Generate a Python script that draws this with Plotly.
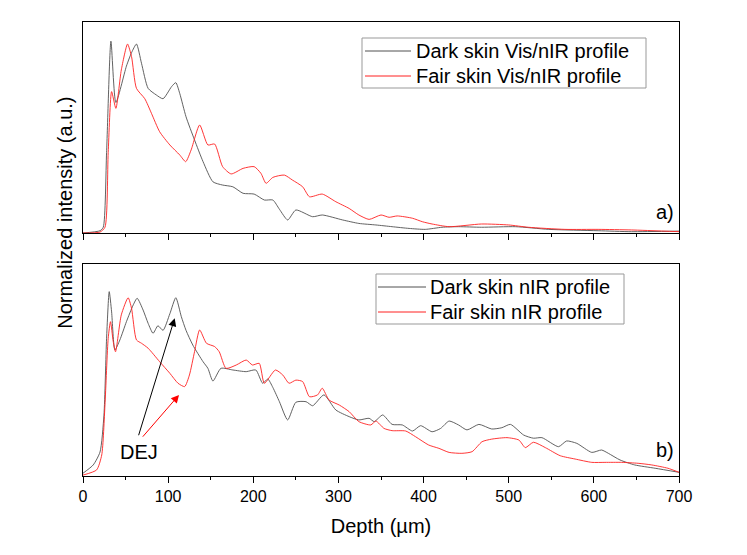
import plotly.graph_objects as go

# ---- Panel a) Vis/nIR profiles ----
a_dark_depth = [0, 20, 23.8, 27.7, 32.8, 38.6, 51, 57, 62.8, 68.7, 76.5, 86, 94, 104, 109, 113.6, 121, 131, 141,
                152.6, 164, 176, 188, 201, 213, 223, 230.7, 240.4, 250, 269.7, 281, 305, 324, 344, 363, 383, 402,
                421.6, 441, 468, 508, 547, 605, 644, 700]
a_dark_val = [0, 0.012, 0.03, 0.42, 1.0, 0.68, 0.87, 0.94, 0.985, 0.885, 0.754, 0.72, 0.70, 0.763, 0.784, 0.728,
              0.606, 0.485, 0.372, 0.267, 0.25, 0.241, 0.207, 0.203, 0.172, 0.172, 0.124, 0.068, 0.12, 0.085,
              0.094, 0.068, 0.05, 0.042, 0.033, 0.024, 0.019, 0.03, 0.033, 0.03, 0.033, 0.019, 0.012, 0.007, 0.01]

a_fair_depth = [0, 20, 25.8, 29.6, 33.6, 38.6, 45, 52.3, 57, 62.8, 72.6, 80.4, 90, 102, 113.6, 120.6, 127, 137,
                146.7, 154.6, 164, 174, 188, 201, 209, 215, 223, 236.5, 246, 258, 266, 281, 297, 312.6, 324, 336,
                350, 359.5, 369, 387, 398.5, 410, 430, 468, 500, 523, 566, 605, 644, 700]
a_fair_val = [0, 0.005, 0.03, 0.42, 0.737, 0.65, 0.85, 0.985, 0.92, 0.754, 0.70, 0.624, 0.528, 0.459, 0.407, 0.372,
              0.433, 0.563, 0.459, 0.464, 0.346, 0.308, 0.337, 0.346, 0.311, 0.259, 0.29, 0.302, 0.276, 0.241,
              0.189, 0.203, 0.163, 0.128, 0.094, 0.071, 0.094, 0.082, 0.089, 0.077, 0.059, 0.047, 0.033, 0.047,
              0.042, 0.03, 0.019, 0.019, 0.016, 0.007]

# ---- Panel b) nIR profiles ----
b_dark_depth = [0, 12, 20, 24.6, 27.7, 30.8, 33.6, 37.5, 43.3, 51, 59, 63.6, 70.6, 76.5, 82.3, 88, 94, 102, 109,
                115.5, 121, 129, 141, 146.7, 152.6, 162, 176, 191.7, 203, 211, 217, 223, 230.7, 240.4, 250, 262,
                269.7, 283, 297, 312.6, 324, 336, 342, 352, 363, 375, 387, 396.5, 410, 420, 430, 441, 451, 465,
                480, 492, 502, 517.6, 529, 539, 558.5, 568, 580, 597.6, 609, 617, 630.7, 648, 672, 700]
b_dark_val = [0.015, 0.06, 0.13, 0.33, 0.747, 1.0, 0.89, 0.684, 0.738, 0.837, 0.928, 0.964, 0.9, 0.828, 0.774,
              0.815, 0.79, 0.88, 0.967, 0.864, 0.79, 0.71, 0.62, 0.584, 0.515, 0.584, 0.575, 0.566, 0.575, 0.503,
              0.526, 0.48, 0.403, 0.304, 0.4, 0.403, 0.381, 0.44, 0.358, 0.322, 0.304, 0.313, 0.295, 0.331, 0.28,
              0.277, 0.244, 0.273, 0.24, 0.258, 0.298, 0.277, 0.25, 0.28, 0.255, 0.262, 0.28, 0.222, 0.205, 0.208,
              0.159, 0.19, 0.177, 0.128, 0.141, 0.123, 0.087, 0.06, 0.042, 0.02]

b_fair_depth = [0, 16, 22, 25.8, 29.6, 32.3, 35.5, 38.2, 45, 53, 57, 62.8, 68.7, 76.5, 90, 102, 111.6, 119.4, 125,
                131, 137, 145, 154.6, 160, 168, 180, 191.7, 199, 207, 213, 226, 234.6, 242, 250, 258, 266, 275.5,
                281, 289, 301, 312.6, 324, 338, 344, 353.6, 363, 379, 390.6, 406, 418, 430, 445, 457, 468.7, 480,
                498, 512, 519.5, 529, 543, 560.5, 578, 597.6, 613, 632.7, 652, 668, 687, 700]
b_fair_val = [0.005, 0.033, 0.114, 0.385, 0.747, 0.837, 0.729, 0.674, 0.874, 0.967, 0.91, 0.738, 0.72, 0.693, 0.62,
              0.557, 0.503, 0.485, 0.548, 0.674, 0.792, 0.72, 0.702, 0.674, 0.584, 0.602, 0.629, 0.602, 0.611, 0.503,
              0.575, 0.548, 0.503, 0.52, 0.512, 0.43, 0.44, 0.476, 0.412, 0.385, 0.349, 0.295, 0.277, 0.298, 0.258,
              0.246, 0.244, 0.213, 0.168, 0.15, 0.128, 0.123, 0.132, 0.186, 0.2, 0.208, 0.195, 0.154, 0.183, 0.154,
              0.11, 0.092, 0.074, 0.074, 0.074, 0.069, 0.06, 0.042, 0.02]

x_ticks = [0, 100, 200, 300, 400, 500, 600, 700]
x_minor_ticks = [50, 150, 250, 350, 450, 550, 650]

legend_a = ["Dark skin Vis/nIR profile", "Fair skin Vis/nIR profile"]
legend_b = ["Dark skin nIR profile", "Fair skin nIR profile"]

DARK = "#505050"
RED = "#ff2020"
FONT = "Liberation Sans, Arial, sans-serif"

fig = go.Figure()
line_kw = dict(width=0.9, shape="spline", smoothing=0.6)
fig.add_trace(go.Scatter(x=a_dark_depth, y=a_dark_val, mode="lines", line=dict(color=DARK, **line_kw),
                         name=legend_a[0], xaxis="x", yaxis="y"))
fig.add_trace(go.Scatter(x=a_fair_depth, y=a_fair_val, mode="lines", line=dict(color=RED, **line_kw),
                         name=legend_a[1], xaxis="x", yaxis="y"))
fig.add_trace(go.Scatter(x=b_dark_depth, y=b_dark_val, mode="lines", line=dict(color=DARK, **line_kw),
                         name=legend_b[0], xaxis="x2", yaxis="y2"))
fig.add_trace(go.Scatter(x=b_fair_depth, y=b_fair_val, mode="lines", line=dict(color=RED, **line_kw),
                         name=legend_b[1], xaxis="x2", yaxis="y2"))

axis_common = dict(showline=True, linecolor="black", linewidth=1.3, mirror=True, showgrid=False, zeroline=False)
xcommon = dict(axis_common, range=[0, 700], tickvals=x_ticks, ticks="outside", ticklen=6, tickcolor="black",
               minor=dict(tickvals=x_minor_ticks, ticks="outside", ticklen=3, tickcolor="black"))

# ---- legend boxes drawn in paper coordinates of the plot area ----
PLOT_L, PLOT_R, PLOT_T, PLOT_B = 83, 679, 22, 476


def px(x):
    return (x - PLOT_L) / (PLOT_R - PLOT_L)


def py(y):
    return (PLOT_B - y) / (PLOT_B - PLOT_T)


shapes = []
annotations = []


def add_legend(box, rows, line_x, text_x, names, colors):
    x0, y0, x1, y1 = box
    shapes.append(dict(type="rect", xref="paper", yref="paper", x0=px(x0), x1=px(x1), y0=py(y1), y1=py(y0),
                       line=dict(color="#999999", width=1), fillcolor="white", layer="above"))
    for ry, name, col in zip(rows, names, colors):
        shapes.append(dict(type="line", xref="paper", yref="paper", x0=px(line_x[0]), x1=px(line_x[1]),
                           y0=py(ry), y1=py(ry), line=dict(color=col, width=1), layer="above"))
        annotations.append(dict(text=name, xref="paper", yref="paper", x=px(text_x), y=py(ry), xanchor="left",
                                yanchor="middle", showarrow=False, font=dict(family=FONT, size=20, color="black")))


add_legend((362, 38, 646, 88), (51, 76), (365, 411), 414, legend_a, [DARK, RED])
add_legend((376, 274, 624, 324), (287, 312), (378, 426), 428, legend_b, [DARK, RED])

annotations += [
    dict(text="Normalized intensity (a.u.)", xref="paper", yref="paper", x=-0.03, y=0.58,
         textangle=-90, showarrow=False, font=dict(family=FONT, size=20), xanchor="center", yanchor="middle"),
    dict(text="a)", xref="x", yref="y", x=697, y=0.11, showarrow=False, xanchor="right", yanchor="middle",
         font=dict(family=FONT, size=20)),
    dict(text="b)", xref="x2", yref="y2", x=697, y=0.14, showarrow=False, xanchor="right", yanchor="middle",
         font=dict(family=FONT, size=20)),
    dict(text="DEJ", xref="x2", yref="y2", x=66, y=0.13, showarrow=False, xanchor="center", yanchor="middle",
         font=dict(family=FONT, size=20)),
    dict(text="", xref="x2", yref="y2", x=107.7, y=0.856, axref="x2", ayref="y2", ax=64.8, ay=0.213,
         showarrow=True, arrowhead=2, arrowsize=1.6, arrowwidth=1, arrowcolor="black"),
    dict(text="", xref="x2", yref="y2", x=112.8, y=0.44, axref="x2", ayref="y2", ax=68.7, ay=0.205,
         showarrow=True, arrowhead=2, arrowsize=1.6, arrowwidth=1, arrowcolor="red"),
]

fig.update_layout(
    width=747, height=555,
    paper_bgcolor="white", plot_bgcolor="white",
    margin=dict(l=75, r=76, t=14, b=87),
    font=dict(family=FONT, size=16, color="black"),
    xaxis=dict(xcommon, domain=[0, 1], anchor="y", showticklabels=False),
    yaxis=dict(axis_common, domain=[0.5352, 1], range=[0, 1.1], showticklabels=False, ticks=""),
    xaxis2=dict(xcommon, domain=[0, 1], anchor="y2", showticklabels=True,
                tickfont=dict(family=FONT, size=16),
                title=dict(text="Depth (µm)", font=dict(family=FONT, size=20), standoff=14)),
    yaxis2=dict(axis_common, domain=[0, 0.467], range=[0, 1.15], showticklabels=False, ticks=""),
    showlegend=False,
    shapes=shapes,
    annotations=annotations,
)

fig.write_html("out.html")
